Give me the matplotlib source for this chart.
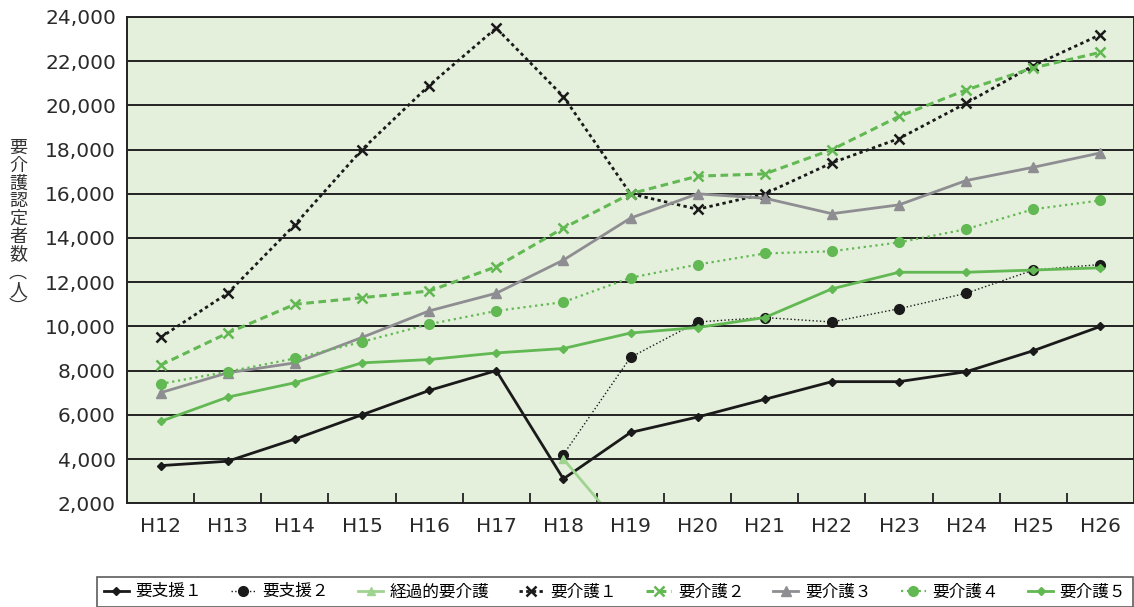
import numpy as np
import matplotlib
matplotlib.use("Agg")
import matplotlib.pyplot as plt

years = ["H12", "H13", "H14", "H15", "H16", "H17", "H18", "H19",
         "H20", "H21", "H22", "H23", "H24", "H25", "H26"]
nan = np.nan

shien1 = [3700, 3900, 4900, 6000, 7100, 8000, 3100, 5200, 5900, 6700, 7500, 7500, 7950, 8900, 10000]
shien2 = [nan, nan, nan, nan, nan, nan, 4200, 8600, 10200, 10400, 10200, 10800, 11500, 12550, 12800]
keika = [nan, nan, nan, nan, nan, nan, 4000, 400, nan, nan, nan, nan, nan, nan, nan]
kaigo1 = [9500, 11500, 14600, 18000, 20900, 23500, 20400, 16000, 15300, 16000, 17400, 18500, 20100, 21800, 23200]
kaigo2 = [8250, 9700, 11000, 11300, 11600, 12700, 14450, 16000, 16800, 16900, 18000, 19500, 20700, 21700, 22400]
kaigo3 = [7000, 7900, 8350, 9500, 10700, 11500, 13000, 14900, 16000, 15800, 15100, 15500, 16600, 17200, 17850]
kaigo4 = [7400, 7950, 8550, 9300, 10100, 10700, 11100, 12200, 12800, 13300, 13400, 13800, 14400, 15300, 15700]
kaigo5 = [5700, 6800, 7450, 8350, 8500, 8800, 9000, 9700, 9950, 10400, 11700, 12450, 12450, 12550, 12650]

labels = ["要支援１", "要支援２", "経過的要介護", "要介護１", "要介護２", "要介護３", "要介護４", "要介護５"]

GREEN = "#62b852"
LIGHT = "#9ed48f"
GRAY = "#8e8e92"
jp = ["Noto Sans CJK JP", "DejaVu Sans"]

fig = plt.figure(figsize=(11.34, 6.07), dpi=100)
ax = fig.add_axes([0.112, 0.171, 0.888, 0.801])
ax.set_facecolor("#e4efdc")

x = np.arange(len(years))
ax.plot(x, shien1, color="#1a1a1a", lw=2, marker="D", ms=4.5, label=labels[0])
ax.plot(x, shien2, color="#1a1a1a", lw=1, ls=":", marker="o", ms=7, label=labels[1])
ax.plot(x, keika, color=LIGHT, lw=2, marker="^", ms=6, label=labels[2])
ax.plot(x, kaigo1, color="#1a1a1a", lw=2, ls=(0, (1.2, 1.2)), marker="x", ms=7, mew=1.8, label=labels[3])
ax.plot(x, kaigo2, color=GREEN, lw=2.2, ls=(0, (2.5, 1.5)), marker="x", ms=7, mew=1.8, label=labels[4])
ax.plot(x, kaigo3, color=GRAY, lw=2, marker="^", ms=6.5, label=labels[5])
ax.plot(x, kaigo4, color=GREEN, lw=1.6, ls=":", marker="o", ms=7, label=labels[6])
ax.plot(x, kaigo5, color=GREEN, lw=2, marker="D", ms=4.5, label=labels[7])

ax.set_xlim(-0.5, len(years) - 0.5)
ax.set_ylim(2000, 24000)
ax.set_yticks(np.arange(2000, 24001, 2000))
ax.set_yticklabels([f"{v:,}" for v in range(2000, 24001, 2000)])
ax.set_xticks(x)
ax.set_xticklabels(years)
ax.set_xticks(np.arange(0.5, len(years) - 1, 1), minor=True)
ax.tick_params(axis="x", which="major", length=0, pad=10, labelsize=14.5, colors="#2a2a2a")
ax.tick_params(axis="x", which="minor", direction="in", length=7, width=1.3, color="#222222")
ax.tick_params(axis="y", direction="in", length=0, pad=8, labelsize=14.5, colors="#2a2a2a")
ax.grid(axis="y", color="#222222", lw=1.4)
ax.set_axisbelow(True)
for s in ax.spines.values():
    s.set_color("#222222")
    s.set_linewidth(1.4)

fig.text(18 / 1134, 1 - 228 / 607, "\n".join("要介護認定者数") + "\n︵\n人\n︶",
         family=jp, fontsize=13, color="#333333", ha="center", va="center",
         linespacing=0.98)

handles, lbls = ax.get_legend_handles_labels()
leg = fig.legend(handles, lbls, loc="lower left", ncol=8, mode="expand",
                 bbox_to_anchor=(97 / 1134, 0.0, 1 - 97 / 1134 - 0.001, 0.058),
                 prop={"family": jp, "size": 12}, frameon=True, fancybox=False,
                 edgecolor="#333333", handlelength=1.5, handletextpad=0.4,
                 columnspacing=1.0, borderaxespad=0.0)
leg.get_frame().set_linewidth(1.2)

fig.savefig("out.png", dpi=100)
